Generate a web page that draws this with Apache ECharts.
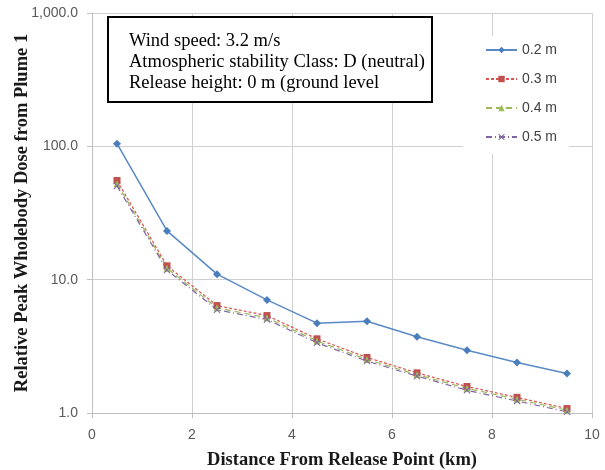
<!DOCTYPE html>
<html>
<head>
<meta charset="utf-8">
<script src="https://cdn.jsdelivr.net/npm/echarts@6/dist/echarts.min.js"></script>
<style>
  html, body { margin: 0; padding: 0; background: #ffffff; }
  #chart { width: 605px; height: 470px; }
</style>
</head>
<body>
<div id="chart"></div>
<script>
// Downwind distance (km) of each receptor
const distances = [0.5, 1.5, 2.5, 3.5, 4.5, 5.5, 6.5, 7.5, 8.5, 9.5];

// Relative peak wholebody dose for each particle size
const dose02 = [104.7, 23.2, 11.0, 7.05, 4.72, 4.88, 3.73, 2.96, 2.39, 1.98];
const dose03 = [55.4, 12.7, 6.39, 5.38, 3.60, 2.61, 2.00, 1.58, 1.31, 1.08];
const dose04 = [52.5, 12.2, 6.15, 5.18, 3.47, 2.52, 1.94, 1.53, 1.27, 1.05];
const dose05 = [50.5, 11.8, 5.95, 5.02, 3.36, 2.45, 1.89, 1.48, 1.23, 1.02];

const seriesNames = ['0.2 m', '0.3 m', '0.4 m', '0.5 m'];
const xTicks = [0, 10, 2];          // min, max, interval
const yTicks = [1, 1000];           // log axis range

const infoLines = [
  'Wind speed: 3.2 m/s',
  'Atmospheric stability Class: D (neutral)',
  'Release height: 0 m (ground level'
];

const pairs = (ys) => distances.map((x, i) => [x, ys[i]]);

const crossPath = 'path://M1,0 L5,4 L9,0 L10,1 L6,5 L10,9 L9,10 L5,6 L1,10 L0,9 L4,5 L0,1 Z';

const chart = echarts.init(document.getElementById('chart'), null, { renderer: 'canvas' });

const axisLabelFont = { fontFamily: 'Liberation Sans', fontSize: 14, color: '#595959' };
const gridLine = { show: true, lineStyle: { color: '#d0d0d0', width: 1 } };
const titleFont = { fontFamily: 'Liberation Serif', fontWeight: 'bold', fontSize: 18.5, color: '#1a1a1a' };

function fmt(v) {
  const s = Number(v).toFixed(1);
  const parts = s.split('.');
  parts[0] = parts[0].replace(/\B(?=(\d{3})+(?!\d))/g, ',');
  return parts.join('.');
}

chart.setOption({
  animation: false,
  backgroundColor: '#ffffff',
  grid: { left: 92, right: 13, top: 13, bottom: 57, containLabel: false, outerBoundsMode: 'none' },
  xAxis: {
    type: 'value',
    min: xTicks[0], max: xTicks[1], interval: xTicks[2],
    name: 'Distance From Release Point (km)',
    nameLocation: 'middle',
    nameGap: 38,
    nameTextStyle: titleFont,
    axisLine: { show: true, lineStyle: { color: '#bfbfbf', width: 1 } },
    axisTick: { show: true, length: 5, lineStyle: { color: '#bfbfbf' } },
    axisLabel: Object.assign({ margin: 15 }, axisLabelFont),
    splitLine: gridLine
  },
  yAxis: {
    type: 'log',
    logBase: 10,
    min: yTicks[0], max: yTicks[1],
    name: 'Relative Peak Wholebody Dose from Plume 1',
    nameLocation: 'middle',
    nameGap: 60,
    nameMoveOverlap: false,
    nameTextStyle: titleFont,
    axisLine: { show: true, lineStyle: { color: '#bfbfbf', width: 1 } },
    axisTick: { show: true, length: 5, lineStyle: { color: '#bfbfbf' } },
    axisLabel: Object.assign({ margin: 14, formatter: fmt }, axisLabelFont),
    splitLine: gridLine
  },
  legend: {
    orient: 'vertical',
    left: 463,
    top: 36,
    padding: [7, 12, 10, 22],
    backgroundColor: '#ffffff',
    itemWidth: 31,
    itemHeight: 8,
    itemGap: 15,
    textStyle: { fontFamily: 'Liberation Sans', fontSize: 14, color: '#404040' },
    data: seriesNames
  },
  series: [
    {
      name: seriesNames[0], type: 'line', data: pairs(dose02),
      symbol: 'diamond', symbolSize: 8,
      itemStyle: { color: '#4a7ebb' },
      lineStyle: { color: '#5a8ac6', width: 1.5, type: 'solid' }
    },
    {
      name: seriesNames[1], type: 'line', data: pairs(dose03),
      symbol: 'rect', symbolSize: 7,
      itemStyle: { color: '#c0504d' },
      lineStyle: { color: '#d9534f', width: 1.2, type: [3, 2] }
    },
    {
      name: seriesNames[2], type: 'line', data: pairs(dose04),
      symbol: 'triangle', symbolSize: 7,
      itemStyle: { color: '#9bbb59' },
      lineStyle: { color: '#9bbb59', width: 1.2, type: [6, 4] }
    },
    {
      name: seriesNames[3], type: 'line', data: pairs(dose05),
      symbol: crossPath, symbolSize: 7,
      itemStyle: { color: '#8064a2' },
      lineStyle: { color: '#8064a2', width: 1.2, type: [6, 3, 1, 3] }
    }
  ],
  graphic: [
    {
      type: 'rect',
      shape: { x: 108, y: 17, width: 324, height: 85 },
      style: { fill: '#ffffff', stroke: '#000000', lineWidth: 2 },
      z: 100
    },
    {
      type: 'text',
      x: 129, y: 31,
      style: {
        text: infoLines.join('\n'),
        font: '18.5px "Liberation Serif"',
        lineHeight: 21,
        fill: '#000000'
      },
      z: 101
    }
  ]
});
</script>
</body>
</html>
